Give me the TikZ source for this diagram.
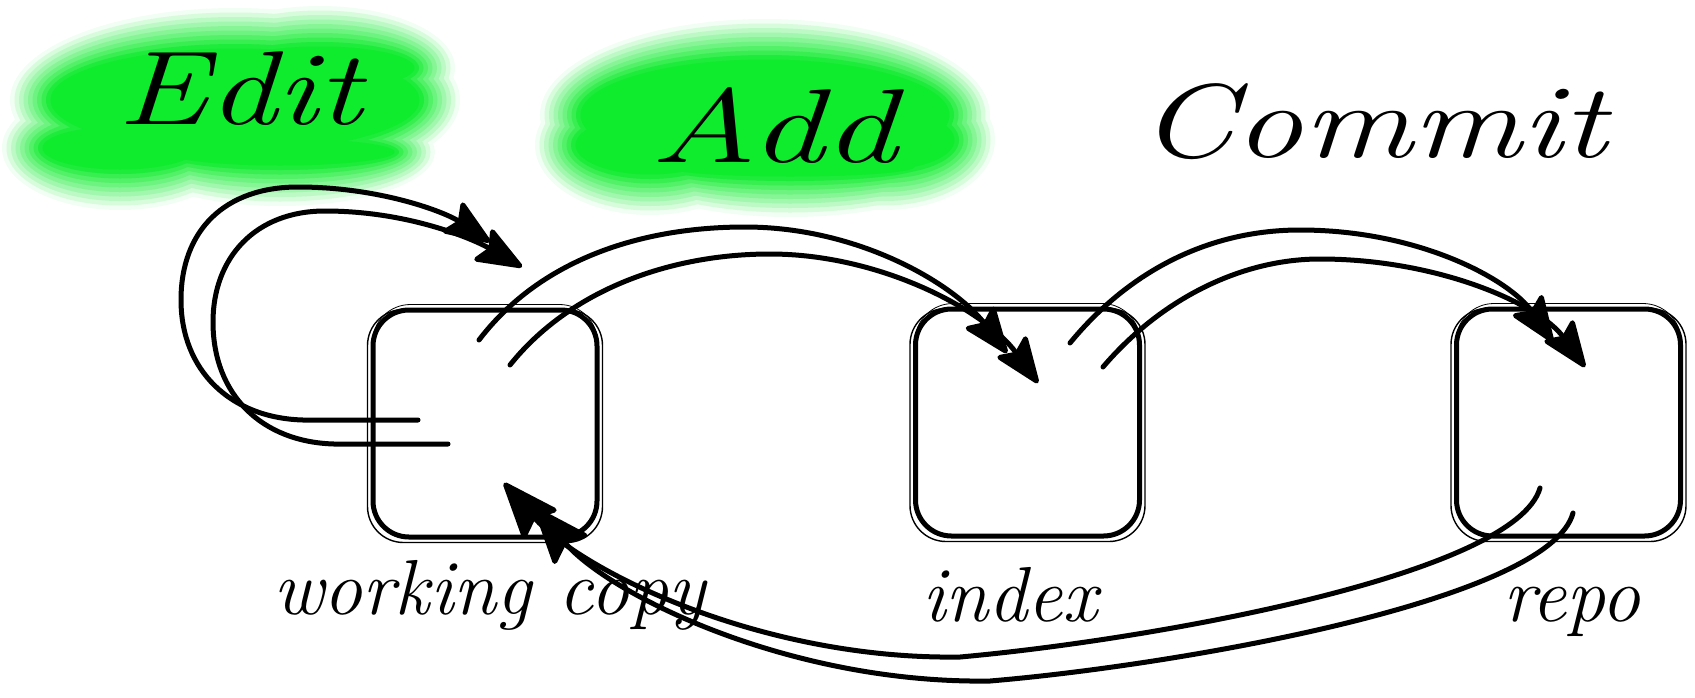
\documentclass[tikz,border=0pt]{standalone}
\usetikzlibrary{arrows.meta,calc}
\definecolor{mygreen}{RGB}{15,235,45}
\tikzset{
  stroke/.style={line width=5pt, line cap=round, black},
  headA/.style={-{Stealth[length=52pt,width=40pt,inset=9pt,round]}},
  headB/.style={-{Stealth[length=62pt,width=48pt,inset=10pt,round]}},
  boxnode/.style={draw, line width=5pt, rounded corners=36pt, minimum width=224pt, minimum height=227pt, inner sep=0pt},
  roughline/.style={line width=1.4pt, rounded corners=36pt},
  title/.style={font=\fontsize{105}{110}\selectfont\itshape, inner sep=0pt},
  lbl/.style={font=\fontsize{78}{80}\selectfont\itshape, inner sep=0pt},
}
\newcommand{\greenblob}[1]{%
  \foreach \k in {0,...,9}{%
    \pgfmathtruncatemacro{\pc}{min(100,6+11*\k)}%
    \foreach \cx/\cy/\rx/\ry in {#1}{%
      \pgfmathsetmacro{\ax}{max(4,\rx-4.5*\k)}%
      \pgfmathsetmacro{\ay}{max(4,\ry-4.5*\k)}%
      \fill[mygreen!\pc!white] (\cx,\cy) ellipse [x radius=\ax pt, y radius=\ay pt];
    }}}
\begin{document}
\begin{tikzpicture}[x=1pt,y=-1pt]
\useasboundingbox (0,0) rectangle (1695,697);
% green blobs
\greenblob{235/100/225/92, 120/148/118/62, 320/68/135/62, 280/152/155/54, 235/118/190/75}
\greenblob{765/115/225/96, 650/145/115/70, 885/140/110/70, 790/167/165/50, 770/132/195/78}
% titles
\node[title, anchor=base] (edit) at (240,124) {\scalebox{1.3}[1]{Edit}};
\node[title, anchor=base] (add) at (774,162) {\scalebox{1.4}[1]{Add}};
\node[title, anchor=base] (commit) at (1373,157) {\scalebox{1.3}[1]{Commit}};
% boxes
\node[boxnode] (wc) at (485,423.5) {};
\node[boxnode] (ix) at (1027.5,422.5) {};
\node[boxnode] (rp) at (1568.5,422.5) {};
\foreach \b in {wc,ix,rp}{
  \draw[roughline] ($(\b.north west)+(-3,2)$) rectangle ($(\b.south east)+(3,3)$);
  \draw[line width=0.8pt, rounded corners=38pt] ($(\b.north west)+(2,-3)$) rectangle ($(\b.south east)+(-2,-2)$);
}
% labels
\node[lbl, anchor=base] (lwc) at (489,614) {working copy};
\node[lbl, anchor=base] (lix) at (1010,621) {index};
\node[lbl, anchor=base] (lrp) at (1572,621) {repo};
% connector ends
\coordinate (e1s) at (418,420); \coordinate (e1e) at (490,242);
\coordinate (e2s) at (448,444); \coordinate (e2e) at (522,267);
\coordinate (a1s) at (479,340); \coordinate (a1e) at (1007,353);
\coordinate (a2s) at (510,365); \coordinate (a2e) at (1038,383);
\coordinate (c1s) at (1070,343); \coordinate (c1e) at (1553,342);
\coordinate (c2s) at (1103,367); \coordinate (c2e) at (1585,367);
\coordinate (r1s) at (1540,488); \coordinate (r1e) at (504,483);
\coordinate (r2s) at (1573,513); \coordinate (r2e) at (535,508);
% edit loop
\draw[stroke,headA] (e1s) -- (303,420) .. controls (230,418) and (181,370) .. (181,300)
  .. controls (181,230) and (225,187) .. (298,187) .. controls (380,187) and (445,212) .. (e1e);
\draw[stroke,headA] (e2s) -- (334,444) .. controls (262,442) and (213,395) .. (213,322)
  .. controls (213,258) and (255,211) .. (325,211) .. controls (410,211) and (475,240) .. (e2e);
% add
\draw[stroke,headA] (a1s) .. controls (540,260) and (640,227) .. (745,227)
  .. controls (860,227) and (955,285) .. (a1e);
\draw[stroke,headA] (a2s) .. controls (570,290) and (670,254) .. (770,254)
  .. controls (880,254) and (985,310) .. (a2e);
% commit
\draw[stroke,headA] (c1s) .. controls (1130,270) and (1210,230) .. (1300,230)
  .. controls (1420,230) and (1510,280) .. (c1e);
\draw[stroke,headA] (c2s) .. controls (1160,300) and (1240,259) .. (1320,259)
  .. controls (1440,259) and (1540,305) .. (c2e);
% return
\draw[stroke,headB] (r1s) .. controls (1515,575) and (1150,640) .. (960,657)
  .. controls (760,660) and (580,570) .. (r1e);
\draw[stroke,headB] (r2s) .. controls (1550,600) and (1180,665) .. (990,681)
  .. controls (790,684) and (610,595) .. (r2e);
\end{tikzpicture}
\end{document}
